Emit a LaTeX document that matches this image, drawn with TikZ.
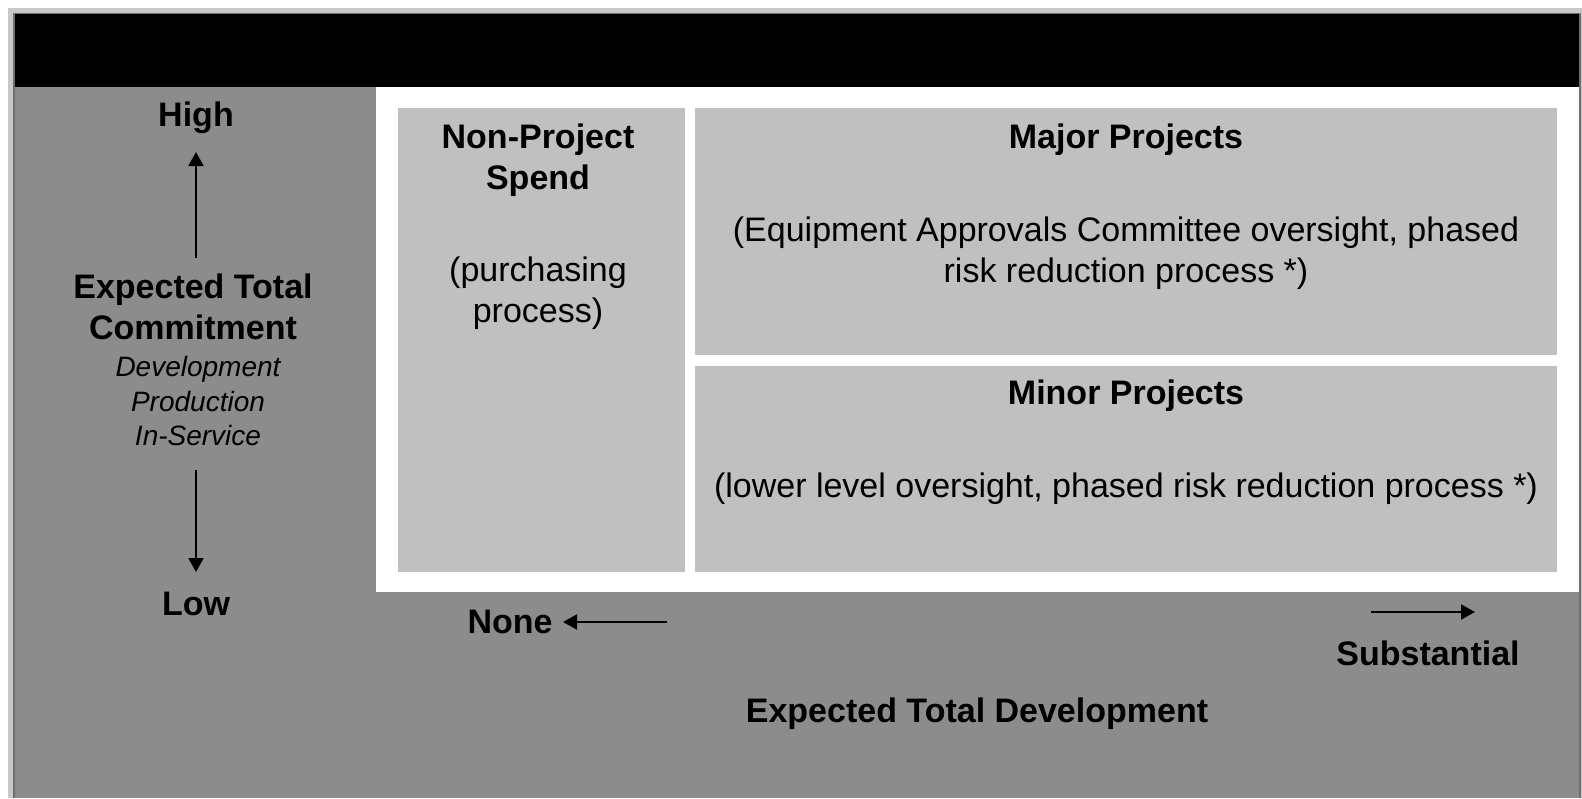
\documentclass[tikz,border=0pt]{standalone}
\usepackage{fontspec}
\setmainfont{Liberation Sans}
\usetikzlibrary{arrows.meta,positioning}
\definecolor{panelgray}{RGB}{140,140,140}
\definecolor{boxgray}{RGB}{192,192,192}
\definecolor{framelight}{RGB}{200,200,200}
\definecolor{framedark}{RGB}{110,110,110}
\tikzset{
  panel/.style = {fill=panelgray, draw=none},% gray side and bottom panels
  box/.style = {fill=boxgray, draw=none, inner sep=0pt, anchor=north west},% light gray boxes
  hd/.style = {align=center, inner sep=0pt, font=\fontsize{34}{41}\selectfont\bfseries},% bold headings
  txt/.style = {align=center, inner sep=0pt, font=\fontsize{34}{41}\selectfont},% plain text
  subtxt/.style = {align=center, inner sep=0pt, font=\fontsize{28}{34.5}\selectfont\itshape},% italic list
  axis/.style = {-{Triangle[width=15pt,length=14pt]}, line width=2pt}
}

\begin{document}
\begin{tikzpicture}[x=1pt,y=-1pt]
\useasboundingbox (0,0) rectangle (1582,798);
% frame
\fill[framelight] (8,8) rectangle (1582,798);
\fill[framedark] (13,13) rectangle (1581,798);
\fill[white] (15,14) rectangle (1579,798);
\fill[black] (15,14) rectangle (1579,87);
\fill[panel] (15,87) rectangle (376,798);
\fill[panel] (376,592) rectangle (1579,798);

% boxes
\node[box, minimum width=287pt, minimum height=464pt] (nps) at (398,108) {};
\node[box, minimum width=862pt, minimum height=247pt] (major) at (695,108) {};
\node[box, minimum width=862pt, minimum height=206pt] (minor) at (695,366) {};

% left axis
\node[hd] (high) at (196,118) {High};
\node[hd] (commit) at (193,307) {Expected Total\\Commitment};
\node[subtxt] (phases) at (198,401) {Development\\Production\\In-Service};
\node[hd] (low) at (196,604) {Low};
\coordinate (up_s) at (196,258);
\coordinate (up_e) at (196,152);
\coordinate (dn_s) at (196,470);
\coordinate (dn_e) at (196,572);
\draw[axis] (up_s) -- (up_e);
\draw[axis] (dn_s) -- (dn_e);

% box texts
\node[hd] (nps_t) at (538,160) {Non-Project\\Spend};
\node[txt] (nps_d) at (538,293) {(purchasing\\process)};
\node[hd] (major_t) at (1126,140) {Major Projects};
\node[txt] (major_d) at (1126,253) {(Equipment Approvals Committee oversight, phased\\risk reduction process *)};
\node[hd] (minor_t) at (1126,396) {Minor Projects};
\node[txt] (minor_d) at (1126,489) {(lower level oversight, phased risk reduction process *)};

% bottom axis
\node[hd] (none) at (510,622) {None};
\node[hd] (subst) at (1428,653) {Substantial};
\node[hd] (dev) at (977,714) {Expected Total Development};
\coordinate (lf_s) at (667,622);
\coordinate (lf_e) at (563,622);
\coordinate (rt_s) at (1371,612);
\coordinate (rt_e) at (1475,612);
\draw[axis] (lf_s) -- (lf_e);
\draw[axis] (rt_s) -- (rt_e);
\end{tikzpicture}
\end{document}
